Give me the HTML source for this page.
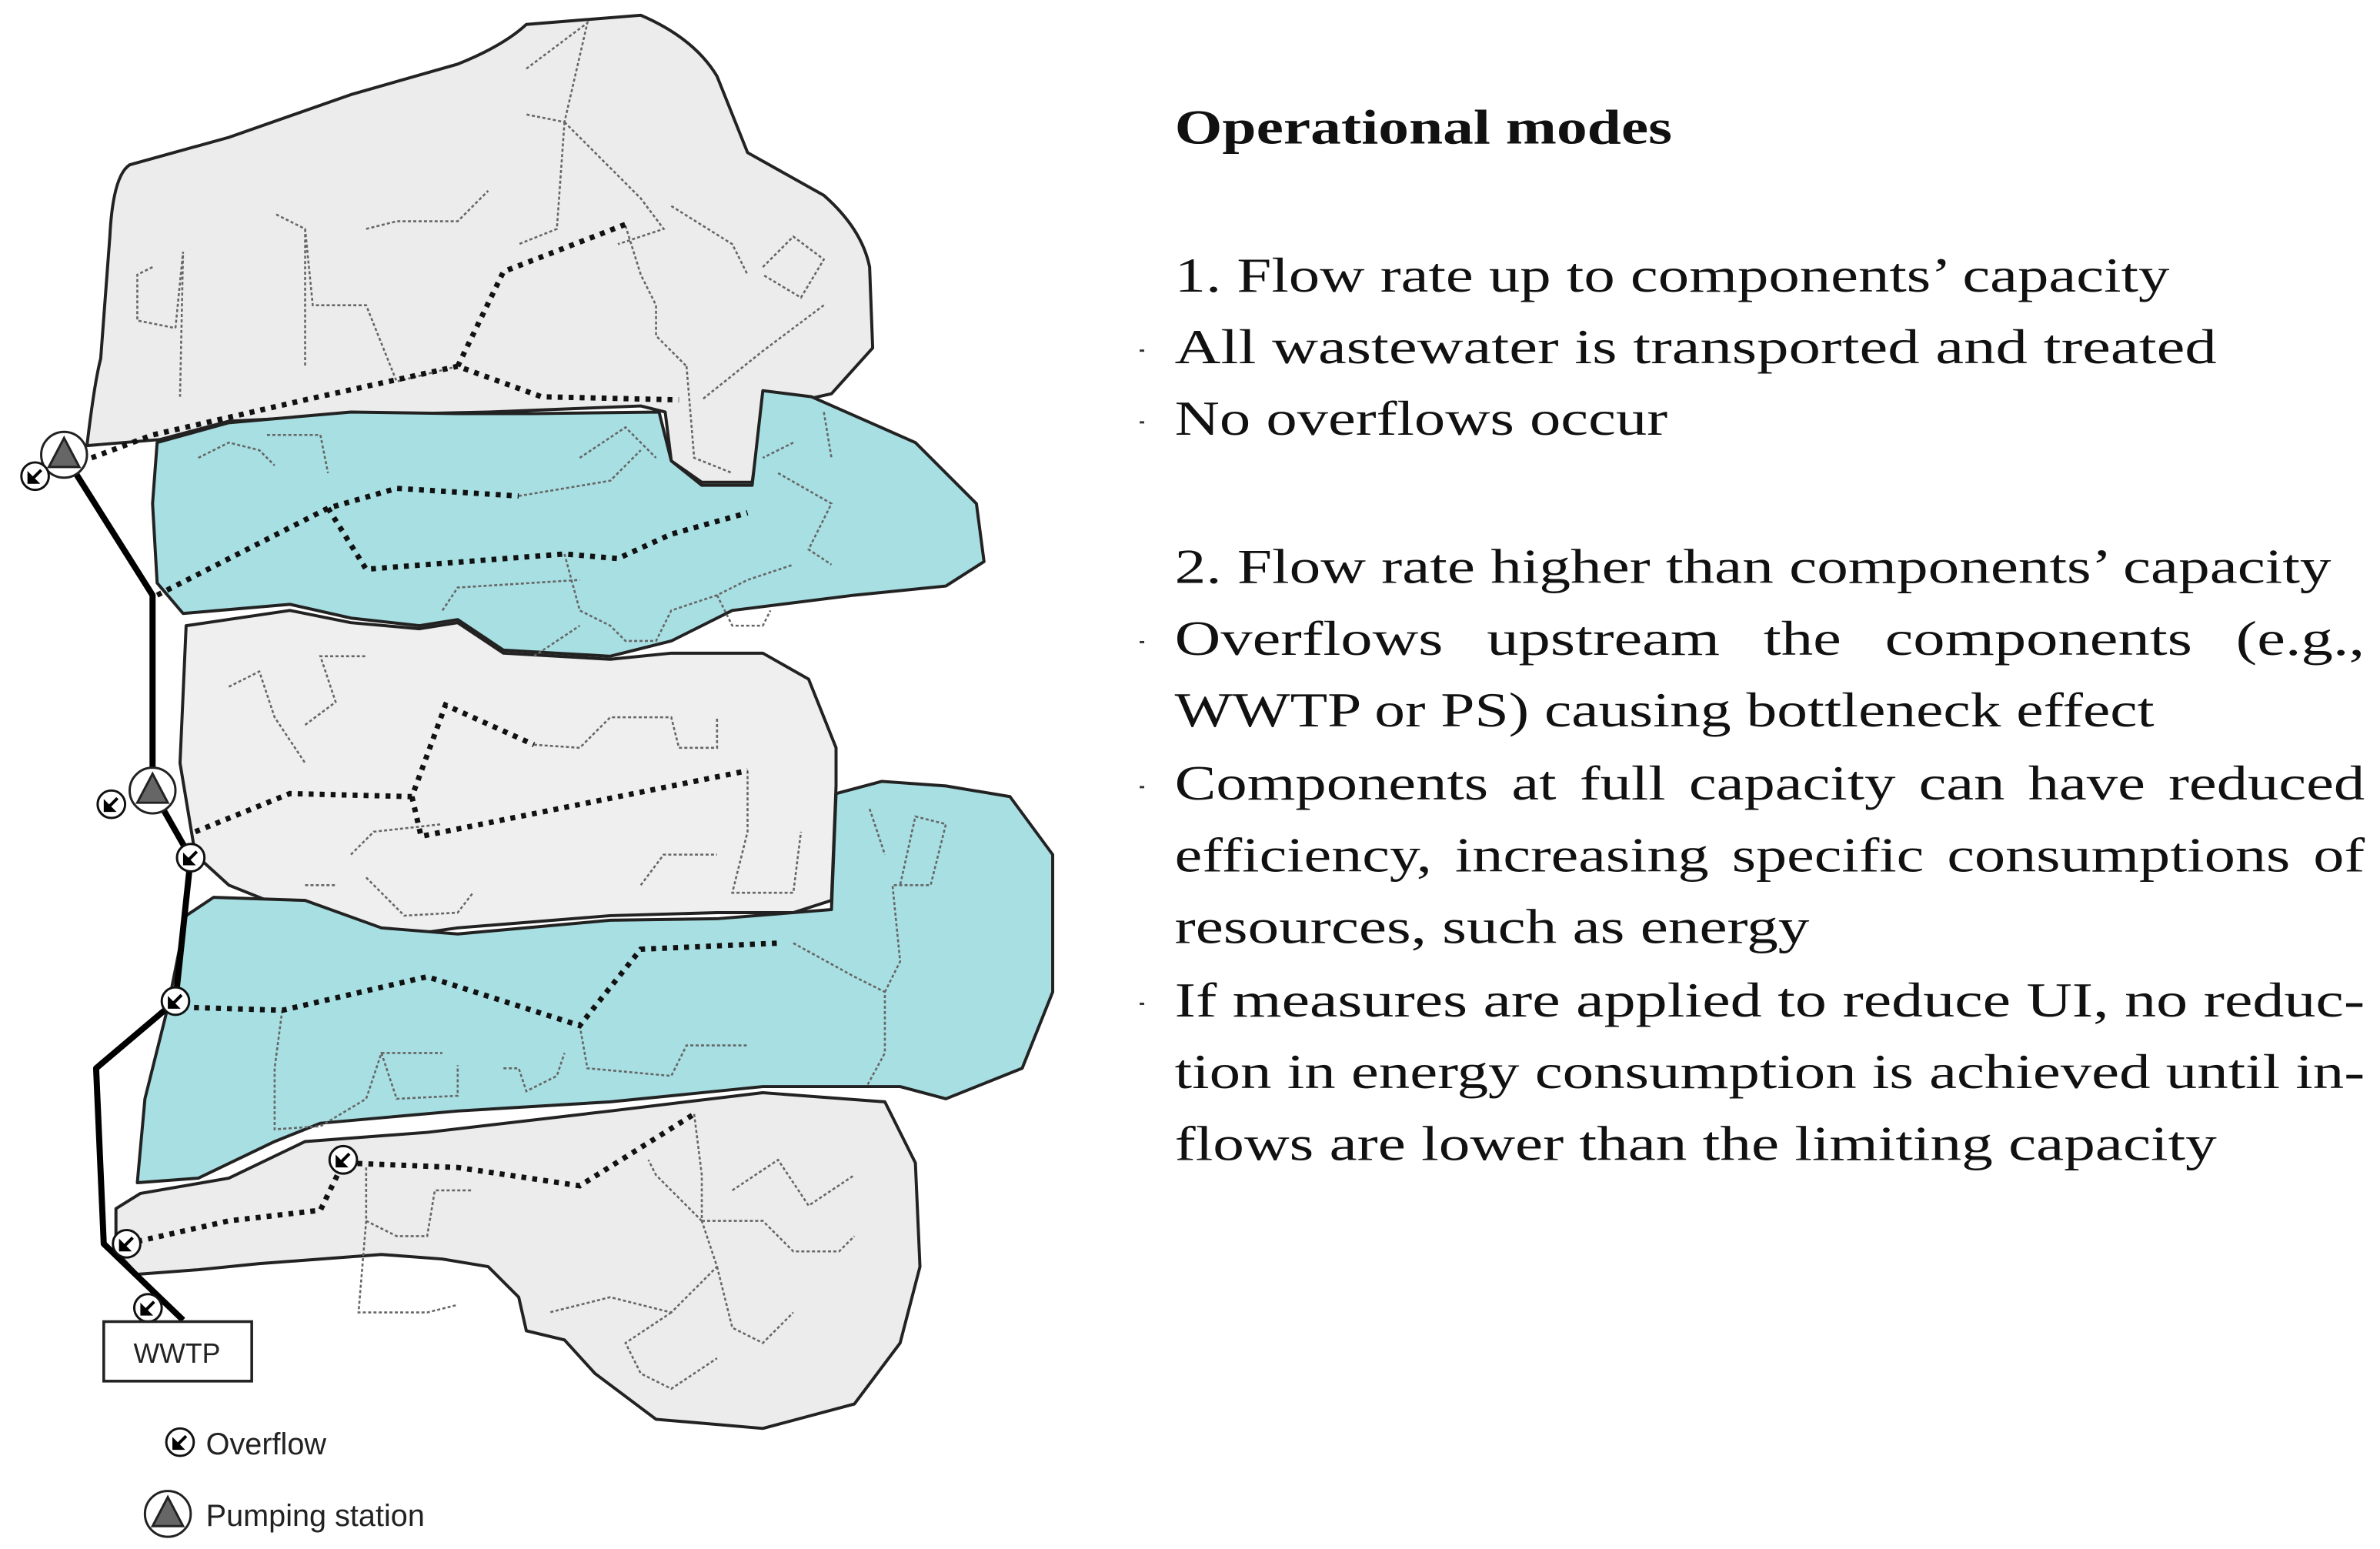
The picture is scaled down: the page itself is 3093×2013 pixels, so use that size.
<!DOCTYPE html>
<html><head><meta charset="utf-8"><style>html,body{margin:0;padding:0;background:#fff}svg{display:block}</style></head>
<body>
<svg width="3093" height="2013" viewBox="0 0 1560 1015" preserveAspectRatio="none" xmlns="http://www.w3.org/2000/svg">
<rect width="1560" height="1015" fill="#fff"/>
<g stroke="#222" stroke-width="2" stroke-linejoin="round">
<path fill="#ececec" d="M57,292 Q62,250 66,235 L72,155 Q74,115 85,108 L150,90 L230,62 L300,42 Q330,30 345,16 L420,10 Q455,25 470,50 L490,100 L540,128 Q565,150 570,175 L572,228 L545,258 L500,268 L493,316 L460,316 L440,302 L436,270 L420,266 L320,270 L230,272 L150,276 L105,288 Z"/>
<path fill="#a7dfe2" d="M103,290 L150,277 L230,270 L300,271 L350,271 L432,270 L440,302 L460,318 L493,318 L500,256 L532,260 L600,290 L640,330 L645,368 L620,384 L560,390 L480,400 L440,420 L400,430 L330,426 L300,406 L275,410 L230,405 L190,396 L120,402 L103,382 L100,330 Z"/>
<path fill="#efefef" d="M122,410 L190,400 L230,408 L275,412 L300,408 L330,428 L400,432 L440,428 L500,428 L530,445 L548,490 L548,515 L545,590 L520,598 L470,598 L400,600 L300,608 L250,615 L200,600 L150,580 L128,560 L118,500 Z"/>
<path fill="#a7dfe2" d="M122,600 L140,588 L200,590 L250,608 L300,612 L400,603 L470,602 L545,596 L548,520 L578,512 L620,515 L662,522 L690,560 L690,650 L670,700 L620,720 L590,712 L500,712 L400,722 L300,728 L210,736 L180,748 L130,772 L90,775 L95,720 L110,660 Z"/>
<path fill="#ececec" d="M76,792 L92,782 L150,772 L200,748 L280,742 L400,728 L500,716 L580,722 L600,762 L603,830 L590,880 L560,920 L500,936 L430,930 L390,900 L370,878 L345,872 L340,850 L320,830 L290,825 L250,822 L170,828 L130,832 L90,835 L76,820 Z"/>
</g>
<g fill="none" stroke="#666" stroke-width="1.3" stroke-dasharray="2,1.5">
<path d="M345,45 L385,15 L370,80 L345,75 M370,80 L420,130 L435,150 L405,160 M370,80 L365,150 L340,160 M300,240 L260,250 L240,200 L205,200 L200,150 L180,140 M200,150 L200,240 M240,150 L260,145 L300,145 L320,125 M100,175 L90,180 L90,210 L115,215 M115,215 L120,165 L118,260 M410,148 L420,180 L430,200 L430,220 L450,240 M440,135 L480,160 L490,180 M450,240 L455,300 L480,310 M500,175 L520,155 L540,170 L525,195 L500,180 M540,200 L500,230 L460,262"/>
<path d="M130,300 L150,290 L170,295 L180,305 M175,285 L210,285 L215,310 M340,325 L370,320 L400,315 L420,295 M380,300 L410,280 L430,300 M510,310 L545,330 L530,360 L545,370 M540,270 L545,300 M520,290 L500,300 M370,363 L380,400 L400,410 L410,420 L430,420 L440,400 L470,390 L490,380 L520,370 M470,390 L480,410 L500,410 L505,400 M290,400 L300,385 L380,380 M350,430 L380,410"/>
<path d="M150,450 L170,440 L180,470 L200,500 M200,475 L220,460 L210,430 L240,430 M350,488 L380,490 L400,470 L440,470 L445,490 L470,490 L470,470 M490,505 L490,545 L480,585 L520,585 L525,545 M420,580 L435,560 L470,560 M230,560 L245,545 L290,540 M240,575 L265,600 L300,598 L310,585 M200,580 L220,580"/>
<path d="M185,662 L180,700 L180,740 L210,738 L240,720 L250,690 L290,690 M250,690 L260,720 L300,718 L300,698 M330,700 L340,700 L345,715 L365,705 L370,690 M380,672 L385,700 L440,705 L450,685 L490,685 M520,618 L560,640 L580,650 L580,690 L568,712 M580,650 L590,630 L585,580 L610,580 L620,540 L600,535 L590,580 M570,530 L580,560"/>
<path d="M240,765 L240,800 L235,860 L280,860 L300,855 M240,800 L260,810 L280,810 L285,780 L310,780 M455,730 L460,770 L460,800 L470,830 L440,860 L400,850 L360,860 M470,830 L480,870 L500,880 L520,860 M440,860 L410,880 L420,900 L440,910 L470,890 M480,780 L510,760 L530,790 L560,770 M460,800 L500,800 L520,820 L550,820 L560,810 M460,800 L430,770 L425,760"/>
</g>
<g fill="none" stroke="#111" stroke-width="3.5" stroke-dasharray="3.2,4">
<path d="M60,300 L100,285 L200,262 L300,240 L355,260 L445,262"/>
<path d="M300,240 L330,178 L410,147"/>
<path d="M103,390 L215,333 L260,320 L340,325"/>
<path d="M215,333 L240,373 L370,363 L405,366 L440,350 L490,336"/>
<path d="M128,545 L190,520 L270,522 L292,462 L350,488"/>
<path d="M270,522 L276,548 L490,505"/>
<path d="M120,660 L185,662 L280,640 L380,672 L420,622 L510,618"/>
<path d="M83,815 L150,800 L210,793 L225,762 L300,765 L380,777 L455,730"/>
</g>
<path d="M42,298 L100,390 L100,500 L100,518 L125,562 L115,656 L63,700 L68,815 L120,865" fill="none" stroke="#000" stroke-width="4" stroke-linejoin="round"/>
<g stroke="#222" stroke-width="1.5">
<circle cx="42" cy="298" r="15" fill="#fff"/><path d="M42,287 L32,306 L52,306 Z" fill="#666"/>
<circle cx="100" cy="518" r="15" fill="#fff"/><path d="M100,507 L90,526 L110,526 Z" fill="#666"/>
</g>
<g stroke="#111" stroke-width="1.5" fill="#fff">
<circle cx="23" cy="312" r="9"/><circle cx="73" cy="527" r="9"/><circle cx="125" cy="562" r="9"/><circle cx="115" cy="656" r="9"/><circle cx="225" cy="760" r="9"/><circle cx="83" cy="815" r="9"/><circle cx="97" cy="857" r="9"/><circle cx="118" cy="945" r="9"/>
</g>
<g stroke="#000" stroke-width="2" fill="#000">
<path d="M27,308 L19,316 M19,316 L19,311 L24,316 Z"/>
<path d="M77,523 L69,531 M69,531 L69,526 L74,531 Z"/>
<path d="M129,558 L121,566 M121,566 L121,561 L126,566 Z"/>
<path d="M119,652 L111,660 M111,660 L111,655 L116,660 Z"/>
<path d="M229,756 L221,764 M221,764 L221,759 L226,764 Z"/>
<path d="M87,811 L79,819 M79,819 L79,814 L84,819 Z"/>
<path d="M101,853 L93,861 M93,861 L93,856 L98,861 Z"/>
<path d="M122,941 L114,949 M114,949 L114,944 L119,949 Z"/>
</g>
<rect x="68" y="866" width="97" height="39" fill="#fff" stroke="#222" stroke-width="1.8"/>
<text x="116" y="893" font-family="Liberation Sans, sans-serif" font-size="18" text-anchor="middle" fill="#222">WWTP</text>
<text x="135" y="953" font-family="Liberation Sans, sans-serif" font-size="20" fill="#222">Overflow</text>
<circle cx="110" cy="992" r="15" fill="#fff" stroke="#222" stroke-width="1.5"/><path d="M110,981 L100,1000 L120,1000 Z" fill="#666" stroke="#222" stroke-width="1.5"/>
<text x="135" y="1000" font-family="Liberation Sans, sans-serif" font-size="20" fill="#222">Pumping station</text>
<g font-family="Liberation Serif, serif" font-size="32" fill="#111">
<text x="770" y="94" font-weight="bold" textLength="326" lengthAdjust="spacingAndGlyphs">Operational modes</text>
<text x="770" y="191" textLength="652" lengthAdjust="spacingAndGlyphs">1. Flow rate up to components’ capacity</text>
<text x="770" y="238" textLength="683" lengthAdjust="spacingAndGlyphs">All wastewater is transported and treated</text>
<text x="770" y="285" textLength="323" lengthAdjust="spacingAndGlyphs">No overflows occur</text>
<text x="770" y="382" textLength="758" lengthAdjust="spacingAndGlyphs">2. Flow rate higher than components’ capacity</text>
<text x="770" y="429" textLength="780" lengthAdjust="spacingAndGlyphs" word-spacing="14">Overflows upstream the components (e.g.,</text>
<text x="770" y="476" textLength="642" lengthAdjust="spacingAndGlyphs">WWTP or PS) causing bottleneck effect</text>
<text x="770" y="524" textLength="780" lengthAdjust="spacingAndGlyphs" word-spacing="4">Components at full capacity can have reduced</text>
<text x="770" y="571" textLength="780" lengthAdjust="spacingAndGlyphs" word-spacing="4">efficiency, increasing specific consumptions of</text>
<text x="770" y="618" textLength="416" lengthAdjust="spacingAndGlyphs">resources, such as energy</text>
<text x="770" y="666" textLength="780" lengthAdjust="spacingAndGlyphs">If measures are applied to reduce UI, no reduc-</text>
<text x="770" y="713" textLength="780" lengthAdjust="spacingAndGlyphs">tion in energy consumption is achieved until in-</text>
<text x="770" y="760" textLength="683" lengthAdjust="spacingAndGlyphs">flows are lower than the limiting capacity</text>
</g>
<g fill="#333">
<rect x="747" y="229" width="3" height="1.5"/><rect x="747" y="276" width="3" height="1.5"/><rect x="747" y="420" width="3" height="1.5"/><rect x="747" y="515" width="3" height="1.5"/><rect x="747" y="657" width="3" height="1.5"/>
</g>
</svg>
</body></html>
